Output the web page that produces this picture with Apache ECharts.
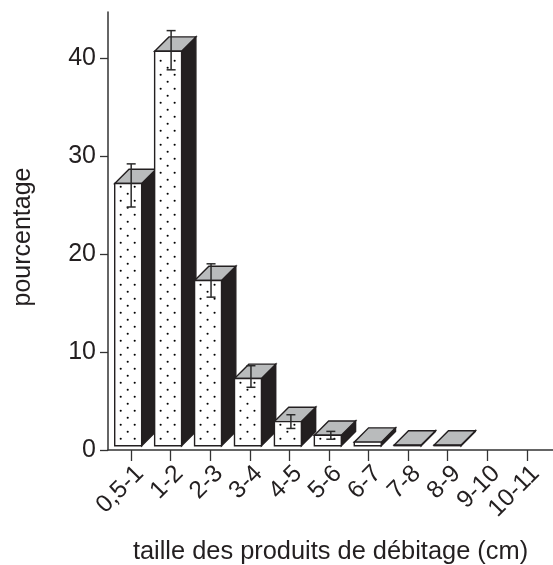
<!DOCTYPE html>
<html><head><meta charset="utf-8">
<style>html,body{margin:0;padding:0;background:#fff}#c{width:553px;height:565px}</style>
<script src="https://cdn.jsdelivr.net/npm/echarts@6/dist/echarts.min.js"></script>
</head><body><div id="c"></div>
<script>
const categories = ['0,5-1','1-2','2-3','3-4','4-5','5-6','6-7','7-8','8-9','9-10','10-11'];
const values  = [27.2, 40.7, 17.3, 7.3, 2.9, 1.5, 0.8, 0.5, 0.5];
const errHigh = [29.2, 42.8, 19.0, 8.6, 3.6, 1.9];
const errLow  = [24.8, 38.8, 15.6, 6.4, 2.2, 1.1];
const yTicks = [0, 10, 20, 30, 40];

const INK = '#231f20', GREY = '#b9bbbc';
const chart = echarts.init(document.getElementById('c'), null, {renderer:'canvas'});
const font = 'Liberation Sans, Arial, Helvetica, sans-serif';

function renderBar(params, api) {
  const i = api.value(0), v = api.value(1);
  const hi = api.value(2), lo = api.value(3);
  const L = api.coord([i, v])[0];
  const W = api.size([0.675, 0])[0];
  const R = L + W;
  const top = api.coord([i, v])[1];
  const base = api.coord([i, 0])[1] - 4.3;
  const D = 14.3;
  const kids = [];
  const st = {stroke: INK, lineWidth: 1.4, lineJoin: 'miter'};
  kids.push({type:'polygon', shape:{points:[[R,top],[R+D,top-D],[R+D,base-D],[R,base]]},
    style:{fill: INK, stroke: INK, lineWidth: 1.4}});
  kids.push({type:'polygon', shape:{points:[[L,top],[R,top],[R+D,top-D],[L+D,top-D]]},
    style:Object.assign({fill: GREY}, st)});
  kids.push({type:'rect', shape:{x:L,y:top,width:W,height:Math.max(base-top,0)},
    style:Object.assign({fill:'#fff'}, st)});
  for (let c = 0; c < 3; c++) {
    const x = L + 6 + c * 7;
    for (let y = base - (c === 1 ? 14 : 7); y > top + 3; y -= 14) {
      kids.push({type:'circle', shape:{cx:x, cy:y, r:1.05}, style:{fill:'#000'}});
    }
  }
  if (hi !== null && !isNaN(hi)) {
    const ex = L + W/2 + 3;
    const yh = api.coord([i, hi])[1], yl = api.coord([i, lo])[1];
    const es = {stroke:'#2a2a2a', lineWidth:1.5};
    kids.push({type:'line', shape:{x1:ex,y1:yh,x2:ex,y2:yl}, style:es});
    kids.push({type:'line', shape:{x1:ex-4.5,y1:yh,x2:ex+4.5,y2:yh}, style:es});
    kids.push({type:'line', shape:{x1:ex-4.5,y1:yl,x2:ex+4.5,y2:yl}, style:es});
  }
  return {type:'group', children:kids};
}

const rows = values.map((v,i)=>[i, v, errHigh[i]===undefined?null:errHigh[i], errLow[i]===undefined?null:errLow[i]]);
const idx = categories.map((_,i)=>i);

chart.setOption({
  animation:false,
  backgroundColor:'#fff',
  grid:{left:108,right:0,top:12,bottom:115,outerBoundsMode:'none'},
  xAxis:[{
    type:'value', min:-0.581, max:10.66, position:'bottom',
    splitLine:{show:false},
    axisLine:{show:true,onZero:false,lineStyle:{color:'#333',width:1.5}},
    axisTick:{show:true,length:11,customValues:idx,lineStyle:{color:'#333',width:1.3}},
    axisLabel:{rotate:45,margin:11,color:INK,fontFamily:font,fontSize:24.5,customValues:idx,
      align:'right',verticalAlign:'top',
      showMinLabel:true,showMaxLabel:true,hideOverlap:false,
      formatter:v=>categories[Math.round(v)]},
    name:'taille des produits de débitage (cm)',nameLocation:'middle',nameGap:89,
    nameTextStyle:{color:INK,fontFamily:font,fontSize:25.4}
  },{
    type:'value', min:-0.168, max:10.977, show:false, position:'bottom'
  }],
  yAxis:[{
    type:'value', min:0, max:44.7, interval:10,
    splitLine:{show:false},
    axisLine:{show:true,onZero:false,lineStyle:{color:'#333',width:1.5}},
    axisTick:{show:true,length:8,lineStyle:{color:'#333',width:1.3}},
    axisLabel:{margin:12,color:INK,fontFamily:font,fontSize:25,
      showMaxLabel:false,
      formatter:v=>yTicks.includes(v)?String(v):''},
    name:'pourcentage',nameLocation:'middle',nameGap:72,
    nameTextStyle:{color:INK,fontFamily:font,fontSize:25,padding:[0,0,0,-12]}
  }],
  series:[{
    type:'custom', xAxisIndex:1, yAxisIndex:0, clip:false,
    renderItem:renderBar, data:rows,
    encode:{x:0,y:1}
  }]
});
</script></body></html>
